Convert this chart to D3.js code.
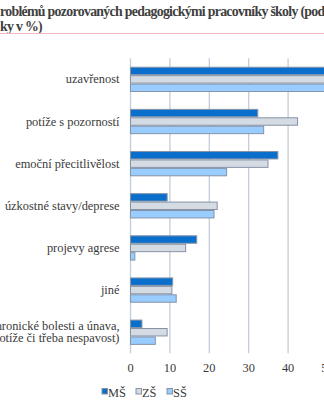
<!DOCTYPE html>
<html>
<head>
<meta charset="utf-8">
<script src="https://cdn.jsdelivr.net/npm/d3@7"></script>
<style>
  html, body { margin: 0; padding: 0; background: #fff; overflow: hidden; }
  svg { display: block; }
</style>
</head>
<body>
<svg id="chart" width="324" height="400"></svg>
<script>
// ---- data ----
const titleLines = [
  "roblémů pozorovaných pedagogickými pracovníky školy (podle typu školy;",
  "ky v %)"
];
const categories = [
  "uzavřenost",
  "potíže s pozorností",
  "emoční přecitlivělost",
  "úzkostné stavy/deprese",
  "projevy agrese",
  "jiné",
  "psychosomatické potíže (chronické bolesti a únava,\nzažívací potíže či třeba nespavost)"
];
const seriesNames = ["MŠ", "ZŠ", "SŠ"];
const valuesMS = [52.0, 32.3, 37.4, 9.3, 16.8, 10.7, 2.9];
const valuesZS = [50.5, 42.4, 34.9, 22.0, 14.0, 10.5, 9.3];
const valuesSS = [51.0, 33.8, 24.4, 21.2, 1.1, 11.6, 6.3];
const tickValues = [0, 10, 20, 30, 40, 50, 60];
const seriesColors = ["#0a6fcc", "#d5dbe3", "#99ccff"];

// ---- layout ----
const svg = d3.select("#chart");
const serif = "Liberation Serif";
const textColor = "#3a3a3a";
const labelSize = 12.4;

const x = d3.scaleLinear().domain([0, 60]).range([130, 130 + 60 * 3.94]);
const y = d3.scaleBand().domain(categories).range([58.3, 353.3])
  .paddingInner(0.4).paddingOuter(0.2);
const ySub = d3.scaleBand().domain(seriesNames).range([0, y.bandwidth()]);

// title: larger glyphs, tightened spacing so the visible words sit where the reference puts them
const titleSize = 13.8;
const probeText = "roblémů pozorovaných pedagogickými pracovníky školy ";
const probe = svg.append("text").attr("font-family", serif)
  .attr("font-weight", "bold").attr("font-size", titleSize)
  .text(probeText);
const probeW = probe.node().getComputedTextLength();
probe.remove();
const titleSpacing = (297 - probeW) / probeText.length;

svg.append("g").selectAll("text").data(titleLines).join("text")
  .attr("x", 0)
  .attr("y", (d, i) => 16 + i * 15)
  .attr("font-family", serif)
  .attr("font-weight", "bold")
  .attr("font-size", titleSize)
  .attr("letter-spacing", titleSpacing)
  .attr("fill", "#404040")
  .text(d => d);
svg.append("line")
  .attr("x1", 0).attr("x2", 324)
  .attr("y1", 33.5).attr("y2", 33.5)
  .attr("stroke", "#f2b6c2").attr("stroke-width", 1);

// gridlines
svg.append("g").selectAll("line").data(tickValues).join("line")
  .attr("x1", d => x(d) + 0.5).attr("x2", d => x(d) + 0.5)
  .attr("y1", 58.3).attr("y2", 353.3)
  .attr("stroke", "#c3ccd9").attr("stroke-width", 1.3);

// bars
const seriesData = [valuesMS, valuesZS, valuesSS];
const groups = svg.append("g").selectAll("g").data(categories).join("g")
  .attr("transform", d => `translate(0,${y(d)})`);
groups.selectAll("rect")
  .data((d, ci) => seriesNames.map((s, si) => ({ s, si, v: seriesData[si][ci] })))
  .join("rect")
  .attr("x", x(0) + 0.5)
  .attr("y", d => ySub(d.s) + 0.5)
  .attr("width", d => x(d.v) - x(0))
  .attr("height", ySub.bandwidth() - 1)
  .attr("fill", d => seriesColors[d.si])
  .attr("stroke", "#8593a7")
  .attr("stroke-width", 1);

// x axis tick labels
const xAxis = d3.axisBottom(x).tickValues(tickValues).tickSize(0).tickPadding(0);
const xg = svg.append("g").attr("transform", "translate(0,361)").call(xAxis);
xg.select(".domain").remove();
xg.attr("font-family", serif).attr("font-size", labelSize);
xg.selectAll("text")
  .attr("fill", textColor).attr("dy", "0.85em");

// category labels
const lineH = 12.5;
const yLabels = svg.append("g").selectAll("text").data(categories).join("text")
  .attr("text-anchor", "end")
  .attr("font-family", serif)
  .attr("font-size", labelSize)
  .attr("fill", textColor);
yLabels.each(function(d) {
  const lines = d.split("\n");
  const cy = y(d) + y.bandwidth() / 2;
  const t = d3.select(this);
  lines.forEach((ln, i) => {
    t.append("tspan")
      .attr("x", 119.5)
      .attr("y", cy + 4 + (i - (lines.length - 1) / 2) * lineH)
      .text(ln);
  });
});

// legend
const legendX = [101.5, 135.5, 166.5];
const legend = svg.append("g").selectAll("g").data(seriesNames).join("g")
  .attr("transform", (d, i) => `translate(${legendX[i]},388)`);
legend.append("rect")
  .attr("x", 0.5).attr("y", 0.5).attr("width", 5.5).attr("height", 5.5)
  .attr("fill", (d, i) => seriesColors[i])
  .attr("stroke", "#8593a7").attr("stroke-width", 1);
legend.append("text")
  .attr("x", 6.5).attr("y", 9)
  .attr("font-family", serif)
  .attr("font-size", labelSize)
  .attr("fill", textColor)
  .text(d => d);
</script>
</body>
</html>
